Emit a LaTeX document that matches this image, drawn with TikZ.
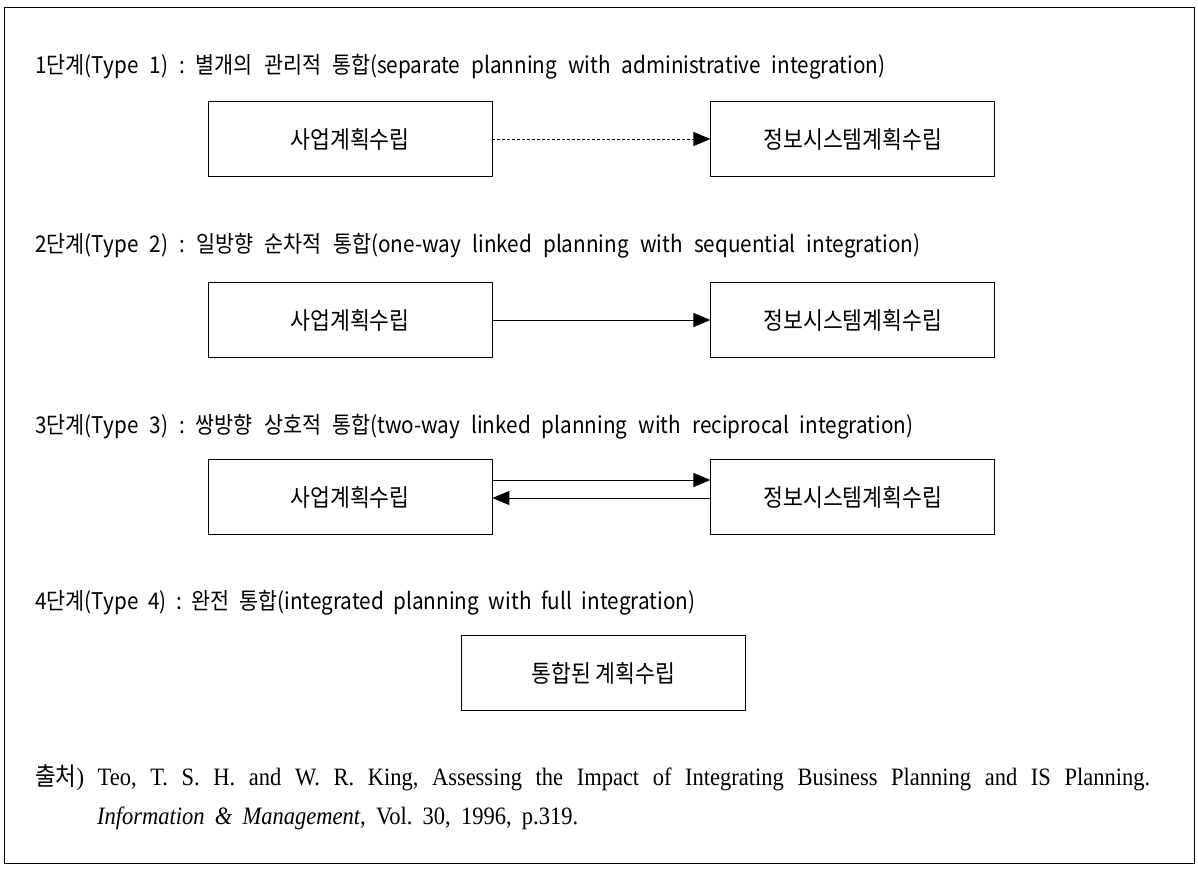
\documentclass[tikz,border=0pt]{standalone}
\usepackage{fontspec}
\setmainfont[FakeStretch=0.9]{Liberation Serif}
\newfontfamily\krfont[FakeStretch=0.9]{Noto Sans CJK KR}
\newfontfamily\krbox[FakeStretch=0.9]{Noto Sans CJK KR}
\usetikzlibrary{positioning,arrows.meta}
\frenchspacing
\tikzset{
  frame/.style={draw,line width=0.8pt},
  title/.style={anchor=west,inner sep=0pt,font=\krfont\fontsize{23}{27}\selectfont},
  planbox/.style={draw,line width=0.8pt,minimum width=284pt,minimum height=75pt,inner sep=0pt,font=\krbox\fontsize{24}{28}\selectfont},
  arr/.style={-{Triangle[length=17pt,width=14pt]},line width=0.9pt},
  cite/.style={anchor=west,inner sep=0pt,font=\fontsize{25}{29}\selectfont}
}
\begin{document}
\begin{tikzpicture}[x=1pt,y=-1pt,node distance=218pt]
\useasboundingbox (0,0) rectangle (1198,868);
\draw[frame] (4,7) rectangle (1194,863);

% Type 1
\node[title] (t1) at (35,67) {\makebox[850pt][s]{1단계(Type 1) : 별개의 관리적 통합(separate planning with administrative integration)}};
\node[planbox] (biz1) at (350,139) {사업계획수립};
\node[planbox, right=of biz1] (isp1) {정보시스템계획수립};
\draw[arr, dash pattern=on 3pt off 2pt] (biz1) -- (isp1);

% Type 2
\node[title] (t2) at (35,246) {\makebox[885pt][s]{2단계(Type 2) : 일방향 순차적 통합(one-way linked planning with sequential integration)}};
\node[planbox] (biz2) at (350,320) {사업계획수립};
\node[planbox, right=of biz2] (isp2) {정보시스템계획수립};
\draw[arr] (biz2) -- (isp2);

% Type 3
\node[title] (t3) at (35,427) {\makebox[878pt][s]{3단계(Type 3) : 쌍방향 상호적 통합(two-way linked planning with reciprocal integration)}};
\node[planbox] (biz3) at (350,497) {사업계획수립};
\node[planbox, right=of biz3] (isp3) {정보시스템계획수립};
\draw[arr] ([yshift=17pt]biz3.east) -- ([yshift=17pt]isp3.west);
\draw[arr] ([yshift=-1pt]isp3.west) -- ([yshift=-1pt]biz3.east);

% Type 4
\node[title] (t4) at (35,603) {\makebox[660pt][s]{4단계(Type 4) : 완전 통합(integrated planning with full integration)}};
\node[planbox] (full4) at (603.5,673) {통합된 계획수립};

% source
\node[cite] (src1) at (35,778) {\makebox[1115pt][s]{{\krfont 출처}) Teo, T. S. H. and W. R. King, Assessing the Impact of Integrating Business Planning and IS Planning.}};
\node[cite] (src2) at (97,818) {\makebox[481pt][s]{\textit{Information \& Management}, Vol. 30, 1996, p.319.}};
\end{tikzpicture}
\end{document}
